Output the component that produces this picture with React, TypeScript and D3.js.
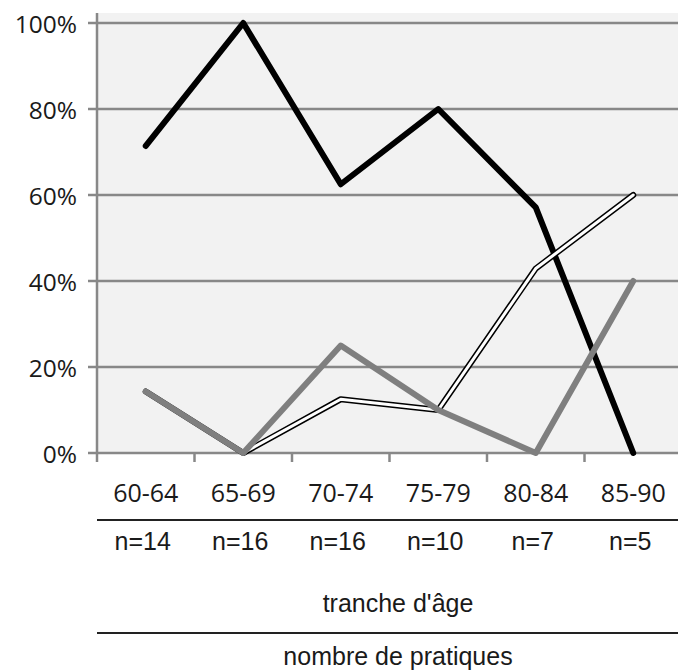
import React from "react";
import * as d3 from "d3";

const categories = ["60-64", "65-69", "70-74", "75-79", "80-84", "85-90"];
const counts = ["n=14", "n=16", "n=16", "n=10", "n=7", "n=5"];
const blackSeries = [71.4, 100, 62.5, 80, 57.1, 0];
const whiteSeries = [14.3, 0, 12.5, 10, 42.9, 60];
const graySeries = [14.3, 0, 25, 10, 0, 40];
const yTicks = [0, 20, 40, 60, 80, 100];
const xTitle = "tranche d'âge";
const bottomTitle = "nombre de pratiques";

const W = 678;
const H = 671;
const left = 97;
const right = 682;
const plotTop = 13;
const y0 = 453;
const y100 = 23;

export default function App() {
  const x = d3.scaleBand<string>().domain(categories).range([left, right]);
  const y = d3.scaleLinear().domain([0, 100]).range([y0, y100]);
  const line = d3
    .line<number>()
    .x((_, i) => (x(categories[i]) as number) + x.bandwidth() / 2)
    .y((d) => y(d));
  const boundaries = categories.map((c) => x(c) as number);
  const textFont = "'Open Sans', sans-serif";
  const arial = "'Liberation Sans', Arial, sans-serif";
  const titleX = 398;
  return (
    <svg
      width={W}
      height={H}
      style={{ position: "absolute", left: 0, top: 0, background: "#fff" }}
    >
      <rect x={left} y={plotTop} width={W - left} height={y0 - plotTop} fill="#f2f2f2" />
      {yTicks.map((t) => (
        <g key={t}>
          <line x1={88} x2={W} y1={y(t)} y2={y(t)} stroke="#888" strokeWidth={2.5} />
          <text
            x={77}
            y={y(t)}
            textAnchor="end"
            dominantBaseline="central"
            fontFamily={textFont}
            fontSize={24.5}
            fill="#1a1a1a"
          >
            {t}%
          </text>
        </g>
      ))}
      <line x1={left} x2={left} y1={plotTop} y2={y0 + 1} stroke="#888" strokeWidth={2.5} />
      {boundaries.map((b, i) =>
        i === 0 ? null : (
          <line key={i} x1={b} x2={b} y1={y0} y2={y0 + 9} stroke="#888" strokeWidth={2.5} />
        )
      )}
      <line x1={left} x2={left} y1={y0} y2={y0 + 9} stroke="#888" strokeWidth={2.5} />

      <path
        d={line(blackSeries) || ""}
        fill="none"
        stroke="#000"
        strokeWidth={6}
        strokeLinejoin="round"
        strokeLinecap="round"
      />
      <path
        d={line(whiteSeries) || ""}
        fill="none"
        stroke="#000"
        strokeWidth={6}
        strokeLinejoin="round"
        strokeLinecap="round"
      />
      <path
        d={line(whiteSeries) || ""}
        fill="none"
        stroke="#fff"
        strokeWidth={3}
        strokeLinejoin="round"
        strokeLinecap="round"
      />
      <path
        d={line(graySeries) || ""}
        fill="none"
        stroke="#7f7f7f"
        strokeWidth={6}
        strokeLinejoin="round"
        strokeLinecap="round"
      />

      {categories.map((c) => (
        <text
          key={c}
          x={(x(c) as number) + x.bandwidth() / 2}
          y={502}
          textAnchor="middle"
          fontFamily={textFont}
          fontSize={25}
          fill="#1a1a1a"
        >
          {c}
        </text>
      ))}
      <line x1={left} x2={W} y1={520} y2={520} stroke="#222" strokeWidth={2} />
      {counts.map((c, i) => (
        <text
          key={i}
          x={(x(categories[i]) as number) + x.bandwidth() / 2 - 3}
          y={550}
          textAnchor="middle"
          fontFamily={arial}
          fontSize={25}
          fill="#1a1a1a"
        >
          {c}
        </text>
      ))}
      <text x={titleX} y={612} textAnchor="middle" fontFamily={arial} fontSize={25} fill="#1a1a1a">
        {xTitle}
      </text>
      <line x1={left} x2={W} y1={633} y2={633} stroke="#222" strokeWidth={2} />
      <text x={titleX} y={665} textAnchor="middle" fontFamily={arial} fontSize={25} fill="#1a1a1a">
        {bottomTitle}
      </text>
    </svg>
  );
}
